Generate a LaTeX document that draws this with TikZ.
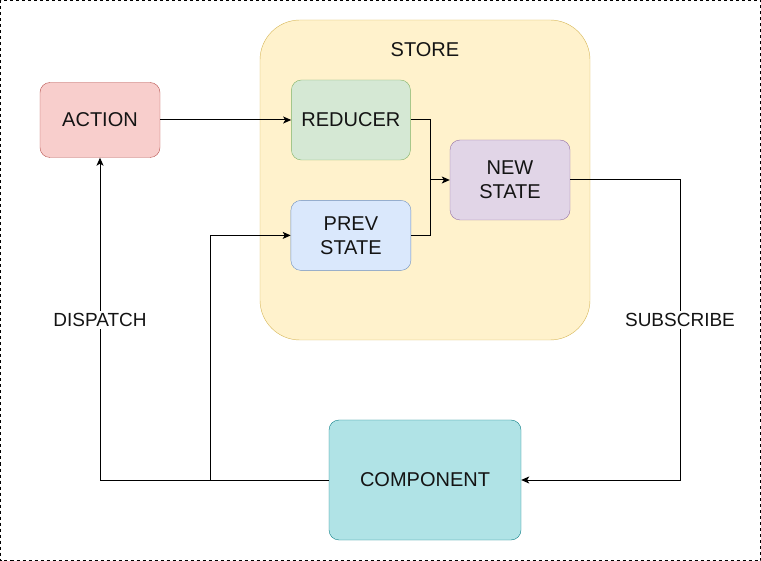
\documentclass[tikz,border=0pt]{standalone}
\usepackage{fontspec}
\setmainfont{Liberation Sans}
\usepackage{xcolor}
\usetikzlibrary{arrows.meta,positioning}
\definecolor{storefill}{HTML}{FFF2CC}\definecolor{storedraw}{HTML}{D6B656}
\definecolor{actfill}{HTML}{F8CECC}\definecolor{actdraw}{HTML}{B85450}
\definecolor{redfill}{HTML}{D5E8D4}\definecolor{reddraw}{HTML}{82B366}
\definecolor{prevfill}{HTML}{DAE8FC}\definecolor{prevdraw}{HTML}{6C8EBF}
\definecolor{newfill}{HTML}{E1D5E7}\definecolor{newdraw}{HTML}{9673A6}
\definecolor{compfill}{HTML}{B0E3E6}\definecolor{compdraw}{HTML}{0E8088}
\definecolor{txt}{HTML}{141414}
\tikzset{
  rbox/.style={rounded corners=10pt, align=center, inner sep=0pt, text=txt, font=\fontsize{20}{24}\selectfont},
  rarr/.style={-{Stealth[length=8pt,width=7pt,inset=2pt]}, line width=1pt},
  rline/.style={line width=1pt},
  rlab/.style={fill=white, text=txt, font=\fontsize{19}{22}\selectfont, inner sep=2pt}
}
\begin{document}
\begin{tikzpicture}[x=1pt,y=1pt]
\useasboundingbox (0,0) rectangle (761,-561);
\draw[dashed, line width=0.8pt] (0.5,-0.5) rectangle (760.5,-560.5);
% store
\node[rbox, rounded corners=40pt, fill=storefill, draw=storedraw, minimum width=330pt, minimum height=320pt,
  label={[text=txt, font=\fontsize{20}{24}\selectfont, yshift=-30pt, anchor=center]north:STORE}] (store) at (425,-180) {};
% boxes
\node[rbox, fill=actfill, draw=actdraw, minimum width=120pt, minimum height=75pt] (act) at (100,-120) {ACTION};
\node[rbox, fill=redfill, draw=reddraw, minimum width=119pt, minimum height=80pt, right=131pt of act] (red) {REDUCER};
\node[rbox, fill=prevfill, draw=prevdraw, minimum width=120pt, minimum height=70pt, below=40pt of red] (prev) {PREV\\STATE};
\node[rbox, fill=newfill, draw=newdraw, minimum width=120pt, minimum height=80pt] (news) at (510,-180) {NEW\\STATE};
\node[rbox, fill=compfill, draw=compdraw, minimum width=192pt, minimum height=120pt] (comp) at (425,-480) {COMPONENT};
% joints
\coordinate (mrg) at (430,-180);
\coordinate (sub) at (680,-180);
\coordinate (tap) at (210,-480);
% connectors
\draw[rarr] (act) -- (red);
\draw[rline] (red.east) -| (mrg);
\draw[rline] (prev.east) -| (mrg);
\draw[rarr] (mrg) -- (news.west);
\draw[rarr] (news.east) -- (sub) |- node[rlab, pos=0.233] {SUBSCRIBE} (comp.east);
\draw[rarr] (comp.west) -| node[rlab, pos=0.748] {DISPATCH} (act.south);
\draw[rarr] (tap) |- (prev.west);
\end{tikzpicture}
\end{document}
